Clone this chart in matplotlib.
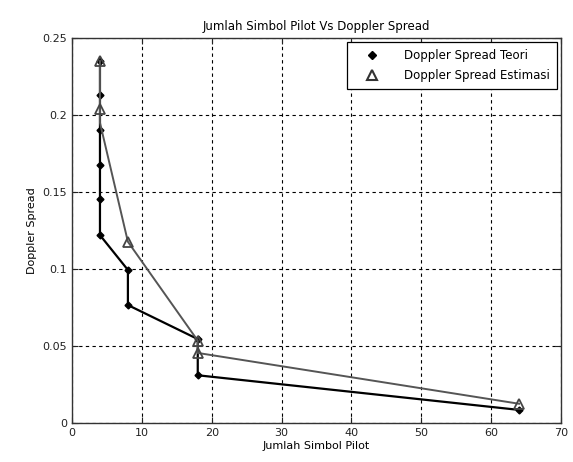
import matplotlib.pyplot as plt
from matplotlib.lines import Line2D

# Data
teori_x = [4, 4, 4, 4, 4, 4, 8, 8, 18, 18, 64]
teori_y = [0.235, 0.213, 0.190, 0.1675, 0.1455, 0.122, 0.0994, 0.0766, 0.0545, 0.031, 0.0085]

estimasi_x = [4, 4, 4, 8, 18, 18, 64]
estimasi_y = [0.235, 0.204, 0.195, 0.1177, 0.0535, 0.0455, 0.0125]

x_ticks = [0, 10, 20, 30, 40, 50, 60, 70]
y_ticks = [0, 0.05, 0.1, 0.15, 0.2, 0.25]
y_ticklabels = ['0', '0.05', '0.1', '0.15', '0.2', '0.25']

plt.rcParams['font.family'] = ['DejaVu Sans']
plt.rcParams['font.size'] = 8

fig = plt.figure(figsize=(5.73, 4.62), dpi=100)
ax = fig.add_axes([0.1257, 0.0844, 0.8533, 0.8333])

ax.plot(teori_x, teori_y, color='black', linewidth=1.6, marker='D',
        markersize=3.5, zorder=3)
# the third estimasi point is hidden under the line in the reference
ax.plot(estimasi_x, estimasi_y, color='#555555', linewidth=1.4, marker='^',
        markersize=7, markerfacecolor='none', markeredgecolor='#444444',
        markeredgewidth=1.3, markevery=[0, 1, 3, 4, 5, 6], zorder=4)

ax.set_xlim(0, 70)
ax.set_ylim(0, 0.25)
ax.set_xticks(x_ticks)
ax.set_yticks(y_ticks)
ax.set_yticklabels(y_ticklabels)
ax.tick_params(direction='in', top=True, right=True, length=4, colors='#222222')
ax.grid(True, linestyle=(0, (3, 3)), color='black', linewidth=0.8)
for s in ax.spines.values():
    s.set_color('#333333')
    s.set_linewidth(1.0)

ax.set_title('Jumlah Simbol Pilot Vs Doppler Spread', fontsize=8.5, pad=6)
ax.set_xlabel('Jumlah Simbol Pilot', labelpad=2)
ax.set_ylabel('Doppler Spread', labelpad=4)

handles = [
    Line2D([], [], linestyle='none', marker='D', markersize=4, color='black'),
    Line2D([], [], linestyle='none', marker='^', markersize=7, markerfacecolor='none',
           markeredgecolor='#333333', markeredgewidth=1.5),
]
leg = ax.legend(handles, ['Doppler Spread Teori', 'Doppler Spread Estimasi'],
                loc='upper right', fancybox=False, framealpha=1, edgecolor='black',
                borderaxespad=0.35, handlelength=3.0, handletextpad=1.2,
                borderpad=0.6, labelspacing=0.6, fontsize=8.5)
leg.get_frame().set_linewidth(0.9)

fig.savefig('out.png', dpi=100)
